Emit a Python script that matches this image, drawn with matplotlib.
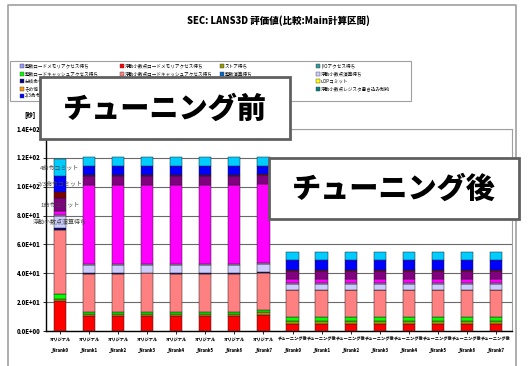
import matplotlib
matplotlib.use("Agg")
import matplotlib.pyplot as plt
import numpy as np
from matplotlib.patches import Rectangle
from matplotlib.lines import Line2D

plt.rcParams['font.family'] = ['Noto Sans CJK JP', 'DejaVu Sans']

# --- data ---------------------------------------------------------------
runs = ['オリジナル\n_Nrank%d' % i for i in range(8)] + \
       ['チューニング後\n_Nrank%d' % i for i in range(8)]

# stack order bottom -> top : (name, colour, values per bar)
fl_load_mem  = [21.0, 10.6, 10.6, 10.5, 10.6, 10.6, 10.6, 11.4] + [4.8] * 8
store_wait   = [1.5, 1.4, 1.4, 1.4, 1.4, 1.4, 1.4, 1.5] + [2.1] * 8
int_cache    = [2.8, 1.3, 1.3, 1.4, 1.3, 1.3, 1.3, 1.6] + [2.5] * 8
fl_load_cach = [45.0, 26.5, 26.5, 26.6, 26.5, 26.5, 26.5, 26.0] + [18.9] * 8
branch_wait  = [0.8, 0.6, 0.6, 0.6, 0.6, 0.6, 0.6, 0.6] + [0.4] * 8
fl_calc_wait = [8.5, 5.1, 5.1, 5.3, 5.1, 5.1, 5.1, 5.1] + [3.7] * 8
io_wait      = [0.7, 1.2, 1.2, 0.8, 1.2, 1.2, 1.2, 1.2] + [1.0] * 8
fetch_wait   = [2.7, 54.7, 54.7, 54.8, 54.7, 54.7, 54.7, 54.6] + [2.7] * 8
commit_1     = [9.2, 6.2, 6.2, 6.2, 6.2, 6.2, 6.2, 6.2] + [5.8] * 8
barrier_wait = [4.1, 0.3, 0.3, 0.3, 0.3, 0.3, 0.3, 0.3] + [0.3] * 8
commit_23    = [10.9, 6.2, 6.2, 6.2, 6.2, 6.2, 6.2, 6.2] + [6.9] * 8
commit_4     = [12.2, 6.2, 6.2, 6.2, 6.2, 6.2, 6.2, 6.2] + [5.7] * 8

series = [
    ('浮動小数点ロードメモリアクセス待ち', '#FF0000', fl_load_mem),
    ('ストア待ち', '#999900', store_wait),
    ('整数ロードキャッシュアクセス待ち', '#00FF00', int_cache),
    ('浮動小数点ロードキャッシュアクセス待ち', '#FF8080', fl_load_cach),
    ('分岐命令実行待ち', '#000080', branch_wait),
    ('浮動小数点演算待ち', '#CCCCFF', fl_calc_wait),
    ('I/Oアクセス待ち', '#DDDDFF', io_wait),
    ('命令フェッチ待ち', '#FF00FF', fetch_wait),
    ('1命令コミット', '#800080', commit_1),
    ('バリア同期待ち', '#800000', barrier_wait),
    ('2/3命令コミット', '#0000FF', commit_23),
    ('4命令コミット', '#00CCFF', commit_4),
]
labelled = ['浮動小数点演算待ち', '1命令コミット', '2/3命令コミット', '4命令コミット']

# legend entries visible around the call-out box (others are hidden by it)
legend_cols = [
    [('整数ロードメモリアクセス待ち', '#9999FF'), ('整数ロードキャッシュアクセス待ち', '#00FF00'),
     ('分岐命令', '#000080'), ('その他', '#FF9900'), ('2/3命令', '#0000FF')],
    [('浮動小数点ロードメモリアクセス待ち', '#FF0000'), ('浮動小数点ロードキャッシュアクセス待ち', '#FF8080')],
    [('ストア待ち', '#999900'), ('整数演算待ち', '#0066CC')],
    [('I/Oアクセス待ち', '#339999'), ('浮動小数点演算待ち', '#CCCCFF'),
     ('uOPコミット', '#FFFF00'), ('浮動小数点レジスタ書き込み制約', '#008080')],
]

W, H = 528, 366
def fx(x): return x / W
def fy(y): return 1 - y / H

fig = plt.figure(figsize=(5.28, 3.66), dpi=100)
fig.patch.set_facecolor('white')

# outer chart border
fig.add_artist(Line2D([fx(8), fx(8), fx(516), fx(516)], [0, fy(5), fy(5), 0],
                      color='#A0A0A0', lw=1.2))

fig.text(fx(278), fy(21), 'SEC: LANS3D 評価値(比較:Main計算区間)', ha='center', va='center',
         fontsize=6.8, fontweight='heavy')

# legend box
fig.add_artist(Rectangle((fx(10), fy(101)), fx(401), 40 / H, facecolor='white',
                         edgecolor='#A0A0A0', lw=0.8))
col_x = [22, 122, 222, 318]
row_y = [66, 73.5, 81, 88.5, 96]
for cx, items in zip(col_x, legend_cols):
    for ry, (name, col) in zip(row_y, items):
        fig.add_artist(Rectangle((fx(cx - 2), fy(ry + 2)), 4 / W, 4 / H, facecolor=col,
                                 edgecolor='#404040', lw=0.3))
        fig.text(fx(cx + 3), fy(ry), name, fontsize=3.3, va='center', ha='left')

ax = fig.add_axes([fx(46), fy(331), fx(512) - fx(46), fy(129) - fy(331)])
x = np.arange(len(runs))
bottom = np.zeros(len(runs))
for name, col, vals in series:
    vals = np.array(vals)
    ax.bar(x, vals, 0.42, bottom=bottom, color=col, edgecolor='#202020', linewidth=0.35, zorder=3)
    if name in labelled:
        ax.text(x[0], bottom[0] + vals[0] / 2, name, ha='center', va='center',
                fontsize=4.3, color='#404040', zorder=4)
    bottom += vals

ax.set_xlim(-0.48, 15.55)
ax.set_ylim(0, 140)
ax.set_yticks(np.arange(0, 141, 20))
ax.set_yticklabels(['%.1E' % v for v in np.arange(0, 141, 20)], fontsize=4.3, fontweight='heavy')
ax.set_xticks(x)
ax.set_xticklabels(runs, fontsize=3.05, fontweight='heavy', linespacing=2.5)
ax.tick_params(axis='both', length=2, width=0.6, pad=2)
ax.yaxis.grid(True, color='#6A6A6A', lw=0.8, zorder=0)
for s in ['top', 'right']:
    ax.spines[s].set_color('#A0A0A0')
    ax.spines[s].set_linewidth(0.8)
for s in ['left', 'bottom']:
    ax.spines[s].set_linewidth(1.0)
fig.text(fx(30), fy(115), '[秒]', fontsize=4.5, fontweight='heavy', ha='center', va='center')

# call-out boxes
for (x0, y0, x1, y1, txt) in [(40, 77, 290, 139, 'チューニング前'),
                              (269, 158, 519, 219, 'チューニング後')]:
    fig.add_artist(Rectangle((fx(x0), fy(y1)), (x1 - x0) / W, (y1 - y0) / H,
                             facecolor='white', edgecolor='#606060', lw=2.0, zorder=10))
    fig.text(fx((x0 + x1) / 2), fy((y0 + y1) / 2 + 1), txt, ha='center', va='center',
             fontsize=21, fontweight='heavy', zorder=11)

fig.savefig('out.png', dpi=100)
